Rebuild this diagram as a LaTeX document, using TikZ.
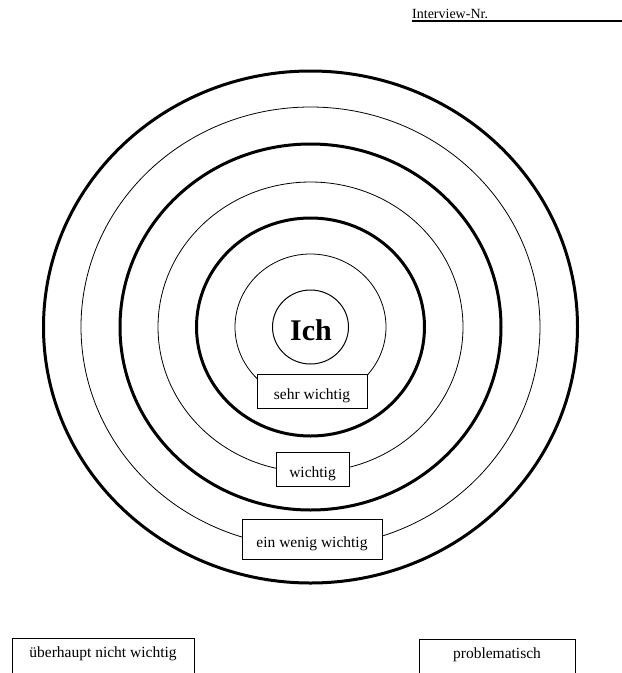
\documentclass[tikz,border=0pt]{standalone}
\usepackage{fontspec}
\setmainfont{Liberation Serif}
\begin{document}
\begin{tikzpicture}[x=1pt,y=-1pt,
  thinring/.style={line width=0.8pt},
  thickring/.style={line width=3pt},
  lbl/.style={draw, fill=white, line width=0.7pt, inner sep=0pt, text height=16pt, text depth=0pt, font=\fontsize{15.5}{18}\selectfont},
  openbox/.style={draw, line width=0.7pt, anchor=north, inner xsep=0pt, inner ysep=7pt, text height=12pt, text depth=40pt, font=\fontsize{15.5}{18}\selectfont}
]
\clip (0,0) rectangle (622,673);
\fill[white] (0,0) rectangle (622,673);
\coordinate (c) at (310.5,327);
% header
\node[anchor=base west, inner sep=0pt, font=\fontsize{14}{16}\selectfont] (hdr) at (412,18) {Interview-Nr.};
\coordinate (lineend) at (622,21);
\draw[line width=1.8pt] (hdr.west |- lineend) -- (lineend);
% rings
\draw[thickring] (c) ellipse [x radius=267pt, y radius=256pt];
\draw[thinring]  (c) ellipse [x radius=229.5pt, y radius=220pt];
\draw[thickring] (c) ellipse [x radius=190.5pt, y radius=183pt];
\draw[thinring]  (c) ellipse [x radius=152.5pt, y radius=145pt];
\draw[thickring] (c) ellipse [x radius=114pt, y radius=109pt];
\draw[thinring]  (c) ellipse [x radius=75.5pt, y radius=73pt];
\draw[line width=1pt] (c) ellipse [x radius=38pt, y radius=37pt];
\node[font=\bfseries\fontsize{30}{34}\selectfont, inner sep=0pt] (ich) at (311,330) {Ich};
% labels
\node[lbl, minimum width=110pt, minimum height=34pt] (sw) at (312,391) {sehr wichtig};
\node[lbl, minimum width=73pt, minimum height=34pt] (w) at (312.5,469) {wichtig};
\node[lbl, minimum width=140pt, minimum height=40pt] (eww) at (312,539) {ein wenig wichtig};
% bottom boxes
\node[openbox, minimum width=182pt] (unw) at (103,638) {überhaupt nicht wichtig};
\node[openbox, minimum width=156pt] (prob) at (497,639) {problematisch};
\end{tikzpicture}
\end{document}
